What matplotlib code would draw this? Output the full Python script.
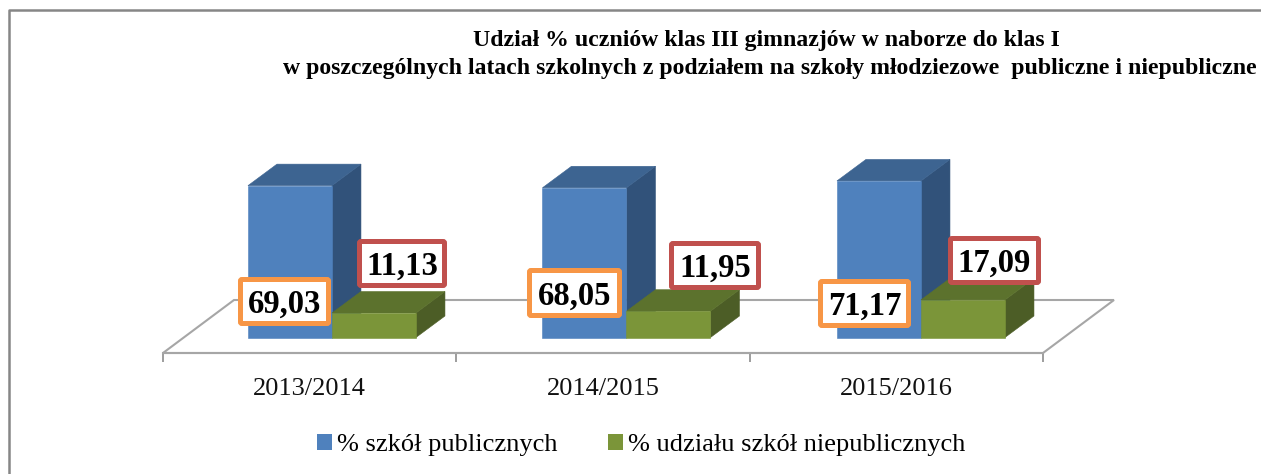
import matplotlib
matplotlib.use("Agg")
import matplotlib.pyplot as plt
from matplotlib.patches import Polygon, FancyBboxPatch, Patch
from matplotlib.transforms import Affine2D

categories = ["2013/2014", "2014/2015", "2015/2016"]
public_share = [69.03, 68.05, 71.17]
private_share = [11.13, 11.95, 17.09]
series_names = ["% szkół publicznych", "% udziału szkół niepublicznych"]
title_lines = ["Udział % uczniów klas III gimnazjów w naborze do klas I",
               "w poszczególnych latach szkolnych z podziałem na szkoły młodziezowe  publiczne i niepubliczne"]

W, H = 1261, 474
plt.rcParams["font.family"] = ["Liberation Serif", "DejaVu Serif"]
fig = plt.figure(figsize=(W / 100, H / 100), dpi=100, facecolor="white")
ax = fig.add_axes([0, 0, 1, 1])
px = Affine2D().scale(1 / W, -1 / H).translate(0, 1) + fig.transFigure

# scales: 293.33 px per category, 2.2 px per percentage point, zero at y=337.5 px
XS, YS, X0, Y0 = 293.33, 2.2, 163, 337.5
ax.set_xlim(-X0 / XS, (W - X0) / XS)
ax.set_ylim((Y0 - H) / YS, Y0 / YS)
ax.patch.set_alpha(0)

for s in ["top", "left", "right"]:
    ax.spines[s].set_visible(False)
floor_y = (Y0 - 353) / YS
ax.spines["bottom"].set_position(("data", floor_y))
ax.spines["bottom"].set_bounds(0, 3)
ax.spines["bottom"].set_color("#A6A6A6")
ax.spines["bottom"].set_linewidth(1.5)
ax.set_yticks([])
ax.set_xticks([0, 1, 2, 3])
ax.set_xticklabels([])
ax.tick_params(axis="x", which="major", length=6.5, width=1.2, color="#8C8C8C")
ax.set_xticks([0.5, 1.5, 2.5], minor=True)
ax.set_xticklabels(categories, minor=True, fontsize=19, color="#111111")
ax.tick_params(axis="x", which="minor", length=0, pad=18)

# floor parallelogram
fdx, fdy = 71 / XS, 53 / YS
ax.add_patch(Polygon([(0, floor_y), (fdx, floor_y + fdy), (3 + fdx, floor_y + fdy), (3, floor_y)],
                     closed=True, facecolor="white", edgecolor="#A6A6A6", linewidth=1.5, zorder=1))

# 3-D bars
dx, dy = 29 / XS, 21.5 / YS
bw = 84 / XS
centres = [0.576 + 1.004 * i for i in range(len(categories))]


def bar3d(x_left, value, front, side, top, z):
    x_right = x_left + bw
    ax.add_patch(Polygon([(x_right, 0), (x_right + dx, dy), (x_right + dx, value + dy), (x_right, value)],
                         closed=True, facecolor=side, edgecolor=side, linewidth=0.4, zorder=z))
    ax.add_patch(Polygon([(x_left, value), (x_left + dx, value + dy), (x_right + dx, value + dy), (x_right, value)],
                         closed=True, facecolor=top, edgecolor=top, linewidth=0.4, zorder=z))
    ax.bar(x_left, value, width=bw, align="edge", color=front, edgecolor=front, linewidth=0.4, zorder=z + 0.2)


for i, c in enumerate(centres):
    bar3d(c - bw, public_share[i], "#4F81BD", "#31527A", "#3D6491", 2 + i)
    bar3d(c, private_share[i], "#7B9539", "#4C5D26", "#5C722D", 2.5 + i)

# value label boxes (pixel placement: x0, y0, x1, y1 of outer box)
public_boxes = [(238, 277, 331, 326), (527, 268, 622, 318), (818, 279, 911, 328)]
private_boxes = [(357, 239, 447, 288), (669, 241, 761, 290), (948, 236, 1041, 285)]


def value_box(box, value, colour):
    x0, y0, x1, y1 = box
    lw = 5
    ax.add_patch(FancyBboxPatch((x0 + lw / 2, y0 + lw / 2), x1 - x0 - lw, y1 - y0 - lw,
                                boxstyle="round,pad=0,rounding_size=1.5", transform=px,
                                facecolor="white", edgecolor=colour, linewidth=lw * 0.72, zorder=10))
    ax.text((x0 + x1) / 2, (y0 + y1) / 2 + 3, f"{value:.2f}".replace(".", ","), transform=px,
            ha="center", va="center", fontsize=23.5, fontweight="bold", color="black", zorder=11)


for b, v in zip(public_boxes, public_share):
    value_box(b, v, "#F79646")
for b, v in zip(private_boxes, private_share):
    value_box(b, v, "#C0504D")

# title
ax.text(766, 40.5, title_lines[0], transform=px, ha="center", va="center",
        fontsize=17.1, fontweight="bold", color="black")
ax.text(770, 68.5, title_lines[1], transform=px, ha="center", va="center",
        fontsize=17.1, fontweight="bold", color="black")

# chart border (runs off the right and bottom of the crop)
ax.plot([9, 9, W + 5], [H + 5, 10.5, 10.5], transform=px, color="#868686",
        linewidth=1.8, clip_on=False, zorder=12)

# legend
handles = [Patch(facecolor="#4F81BD", label=series_names[0]),
           Patch(facecolor="#7B9539", label=series_names[1])]
ax.legend(handles=handles, ncol=2, frameon=False, fontsize=19, handlelength=0.57, handleheight=0.55,
          handletextpad=0.2, columnspacing=1.9, loc="center left",
          bbox_to_anchor=(317 / W, 1 - 445 / H), bbox_transform=fig.transFigure, borderpad=0, borderaxespad=0)

fig.savefig("out.png", dpi=100)
